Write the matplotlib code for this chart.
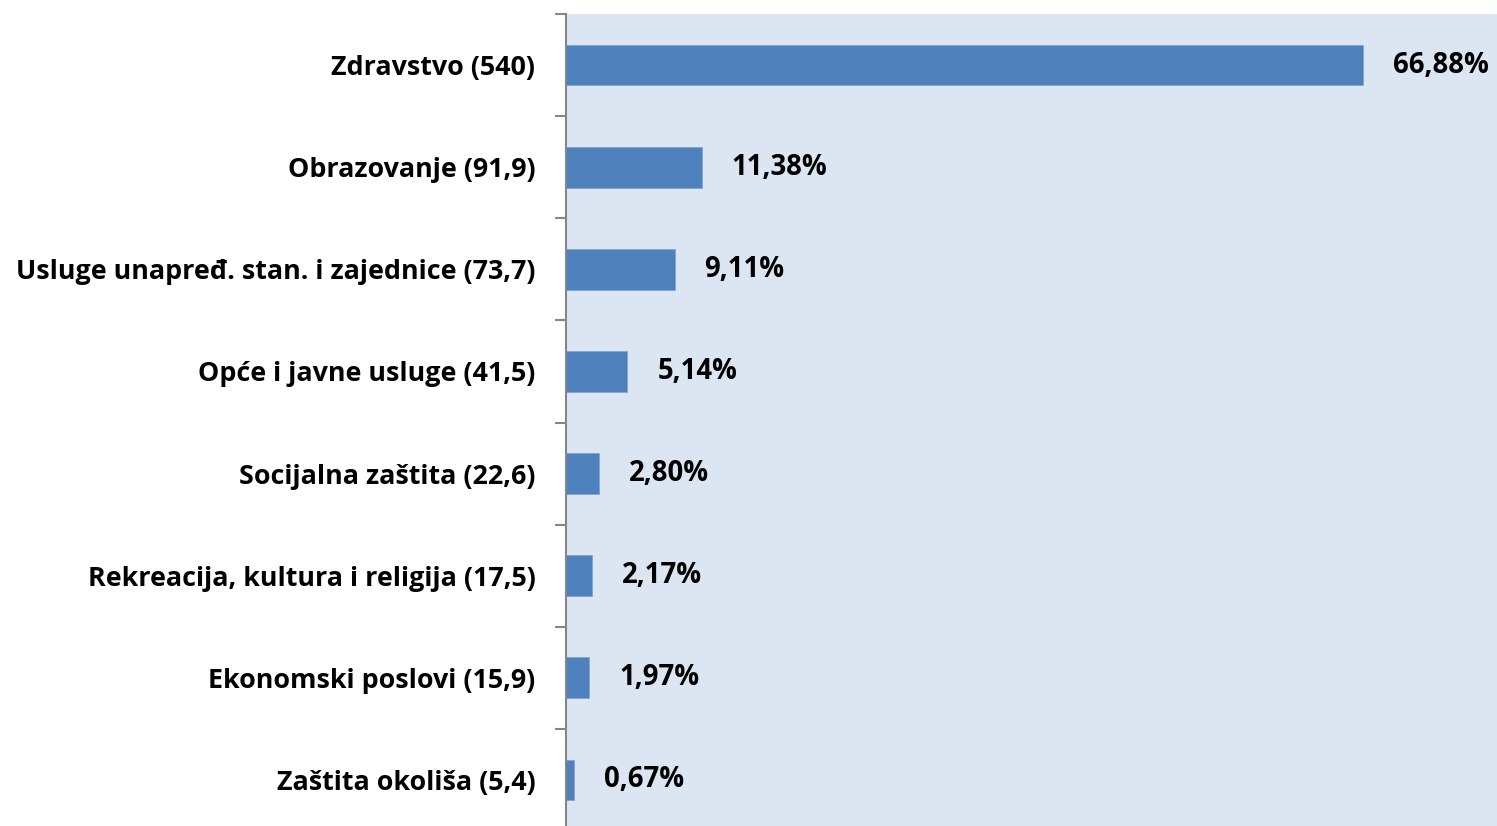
import matplotlib.pyplot as plt

# Données
categories = [
    "Zdravstvo (540)",
    "Obrazovanje (91,9)",
    "Usluge unapređ. stan. i zajednice (73,7)",
    "Opće i javne usluge (41,5)",
    "Socijalna zaštita (22,6)",
    "Rekreacija, kultura i religija (17,5)",
    "Ekonomski poslovi (15,9)",
    "Zaštita okoliša (5,4)",
]
shares = [66.88, 11.38, 9.11, 5.14, 2.80, 2.17, 1.97, 0.67]
share_labels = ["66,88%", "11,38%", "9,11%", "5,14%", "2,80%", "2,17%", "1,97%", "0,67%"]

plt.rcParams["font.family"] = ["Open Sans", "DejaVu Sans"]

fig = plt.figure(figsize=(14.97, 8.26), dpi=100)
# l'axe dépasse un peu en bas, comme dans l'original
ax = fig.add_axes([566 / 1497, -5 / 826, (1497 - 566) / 1497, (831 - 14) / 826])
ax.set_facecolor("#dce6f2")

pos = list(range(len(categories)))
ax.barh(pos, shares, height=0.4, color="#4f81bd", edgecolor="#7fa3d1", linewidth=0.6)

ax.set_ylim(len(categories) - 0.5, -0.5)
ax.set_xlim(0, 78.1)

# libellés des catégories
ax.set_yticks(pos)
ax.set_yticklabels(categories, fontsize=19.4, fontweight="bold")
ax.tick_params(axis="y", which="major", length=0, pad=22)
# graduations entre catégories
ax.set_yticks([p + 0.5 for p in range(-1, len(categories))], minor=True)
ax.tick_params(axis="y", which="minor", length=8, width=1.5, color="#868686")
ax.set_xticks([])

for s in ["top", "right", "bottom"]:
    ax.spines[s].set_visible(False)
ax.spines["left"].set_color("#868686")
ax.spines["left"].set_linewidth(1.5)

for p, v, lab in zip(pos, shares, share_labels):
    ax.annotate(lab, (v, p), xytext=(30, 0), textcoords="offset pixels",
                va="center", ha="left", fontsize=19.8, fontweight="bold")

fig.savefig("out.png", dpi=100)
